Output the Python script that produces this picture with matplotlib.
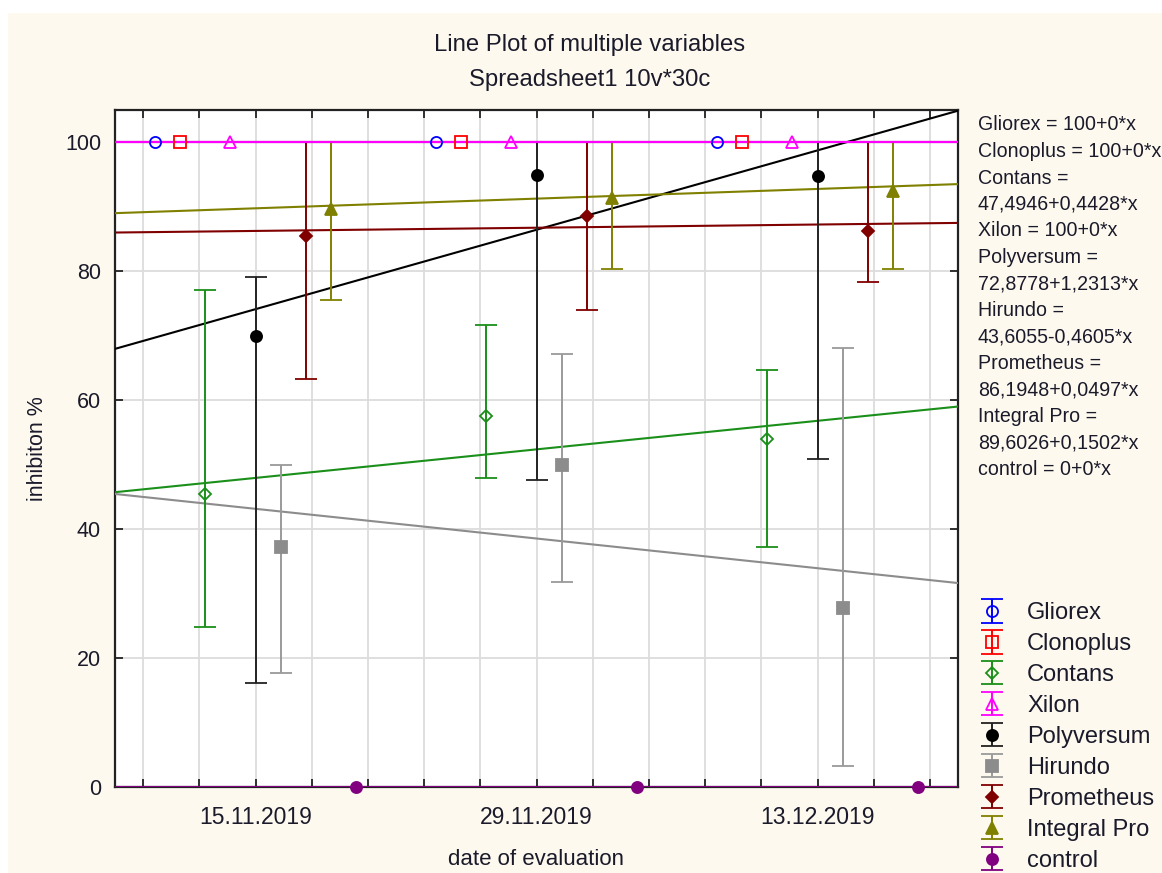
import numpy as np
import matplotlib
matplotlib.use("Agg")
import matplotlib.pyplot as plt
from matplotlib.patches import Rectangle

plt.rcParams['font.family'] = ['Liberation Sans', 'DejaVu Sans']

# data
dates = ['15.11.2019', '29.11.2019', '13.12.2019']
series = ['Gliorex', 'Clonoplus', 'Contans', 'Xilon', 'Polyversum',
          'Hirundo', 'Prometheus', 'Integral Pro', 'control']
means = {
    'Gliorex': [100, 100, 100],
    'Clonoplus': [100, 100, 100],
    'Contans': [45.4, 57.6, 54.0],
    'Xilon': [100, 100, 100],
    'Polyversum': [70.0, 94.9, 94.7],
    'Hirundo': [37.3, 50.0, 27.8],
    'Prometheus': [85.4, 88.5, 86.2],
    'Integral Pro': [89.6, 91.3, 92.5],
    'control': [0, 0, 0],
}
lower = {
    'Contans': [24.8, 48.0, 37.3],
    'Polyversum': [16.2, 47.6, 50.9],
    'Hirundo': [17.7, 31.8, 3.3],
    'Prometheus': [63.3, 74.0, 78.3],
    'Integral Pro': [75.6, 80.3, 80.3],
}
upper = {
    'Contans': [77.1, 71.6, 64.6],
    'Polyversum': [79.1, 100, 100],
    'Hirundo': [49.9, 67.2, 68.1],
    'Prometheus': [100, 100, 100],
    'Integral Pro': [100, 100, 100],
}
intercepts = [100, 100, 47.4946, 100, 72.8778, 43.6055, 86.1948, 89.6026, 0]
slopes = [0, 0, 0.4428, 0, 1.2313, -0.4605, 0.0497, 0.1502, 0]
eq_lines = ['Gliorex = 100+0*x', 'Clonoplus = 100+0*x', 'Contans =',
            '47,4946+0,4428*x', 'Xilon = 100+0*x', 'Polyversum =',
            '72,8778+1,2313*x', 'Hirundo =', '43,6055-0,4605*x',
            'Prometheus =', '86,1948+0,0497*x', 'Integral Pro =',
            '89,6026+0,1502*x', 'control = 0+0*x']

colors = ['#0000ff', '#ff0000', '#1a8f1a', '#ff00ff', '#000000',
          '#8c8c8c', '#800000', '#808000', '#800080']
err_colors = ['#0000ff', '#ff0000', '#1a8f1a', '#ff00ff', '#222222',
              '#9a9a9a', '#800000', '#808000', '#800080']
markers = ['o', 's', 'D', '^', 'o', 's', 'D', '^', 'o']
filled = [False, False, False, False, True, True, True, True, True]

cream = '#fdf9ef'
txt = '#1a1a2a'

fig = plt.figure(figsize=(11.62, 8.73), dpi=100)
fig.patch.set_facecolor('white')
fig.patches.append(Rectangle((8 / 1162, 0), 1, 1 - 13 / 873, transform=fig.transFigure,
                             facecolor=cream, edgecolor='none', zorder=-10))

ax = fig.add_axes([115 / 1162, 1 - 787 / 873, (958 - 115) / 1162, (787 - 110) / 873])
ax.set_facecolor('white')
ax.set_xlim(0.5, 3.5)
ax.set_ylim(0, 105)

case_x = np.arange(1, len(dates) + 1)
step = 0.089

# regression lines (x = case number, 10 cases per date)
xl = np.array([0.5, 3.5])
X = 10 * (xl - 1) + 1
for i in range(len(series)):
    z = 4.5 if series[i] == 'Xilon' else 3
    ax.plot(xl, intercepts[i] + slopes[i] * X, color=colors[i], lw=1.5,
            zorder=z)

handles = []
for i, name in enumerate(series):
    xs = case_x + (i - 4) * step
    m = np.array(means[name], dtype=float)
    c = colors[i]
    kw = dict(fmt=markers[i], color=c, ecolor=err_colors[i], mec=c,
              mfc=c if filled[i] else 'none',
              ms=8 if markers[i] != 'D' else 6.5, mew=1.3,
              capsize=8, capthick=1.4, elinewidth=1.4, label=name)
    if name in lower:
        yerr = [m - np.array(lower[name]), np.array(upper[name]) - m]
        h = ax.errorbar(xs, m, yerr=yerr, zorder=4, clip_on=False, **kw)
    else:
        ax.errorbar(xs, m, zorder=6, clip_on=False,
                    **{k: v for k, v in kw.items() if k != 'label'})
        # proxy with error bar glyph for the legend
        h = ax.errorbar([np.nan], [np.nan], yerr=[1.0], **kw)
    handles.append(h)

# axes styling
ax.set_xticks(case_x)
ax.set_xticklabels(dates)
ax.set_xticks(np.arange(0.6, 3.45, 0.2), minor=True)
ax.set_yticks(np.arange(0, 101, 20))
ax.grid(True, which='both', color='#dcdcdc', lw=1.3, zorder=0)
ax.set_axisbelow(True)
ax.tick_params(which='both', direction='in', top=True, right=True, length=6,
               width=1.3, colors='#222222', labelcolor=txt)
ax.tick_params(axis='x', labelsize=16.5, pad=14)
ax.tick_params(axis='y', labelsize=15.5, pad=10)
for s in ax.spines.values():
    s.set_linewidth(1.6)
    s.set_color('#222222')

ax.set_xlabel('date of evaluation', fontsize=16, color=txt, labelpad=14)
ax.set_ylabel('inhibiton %', fontsize=15.5, color=txt, labelpad=12)

fig.text(590 / 1162, 1 - 45 / 873, 'Line Plot of multiple variables',
         ha='center', va='center', fontsize=17.2, color=txt)
fig.text(590 / 1162, 1 - 80 / 873, 'Spreadsheet1 10v*30c',
         ha='center', va='center', fontsize=17.2, color=txt)

for k, line in enumerate(eq_lines):
    fig.text(978 / 1162, 1 - (125 + 26.5 * k) / 873, line, ha='left',
             va='center', fontsize=14.1, color=txt)

leg = ax.legend(handles=handles, loc='upper left',
                bbox_to_anchor=(968 / 1162, 1 - 602 / 873),
                bbox_transform=fig.transFigure, frameon=False, fontsize=17,
                handlelength=2.0, handletextpad=0.5, labelspacing=0.38,
                borderpad=0, borderaxespad=0)
for t in leg.get_texts():
    t.set_color(txt)

fig.savefig('out.png', dpi=100, facecolor=fig.get_facecolor())
